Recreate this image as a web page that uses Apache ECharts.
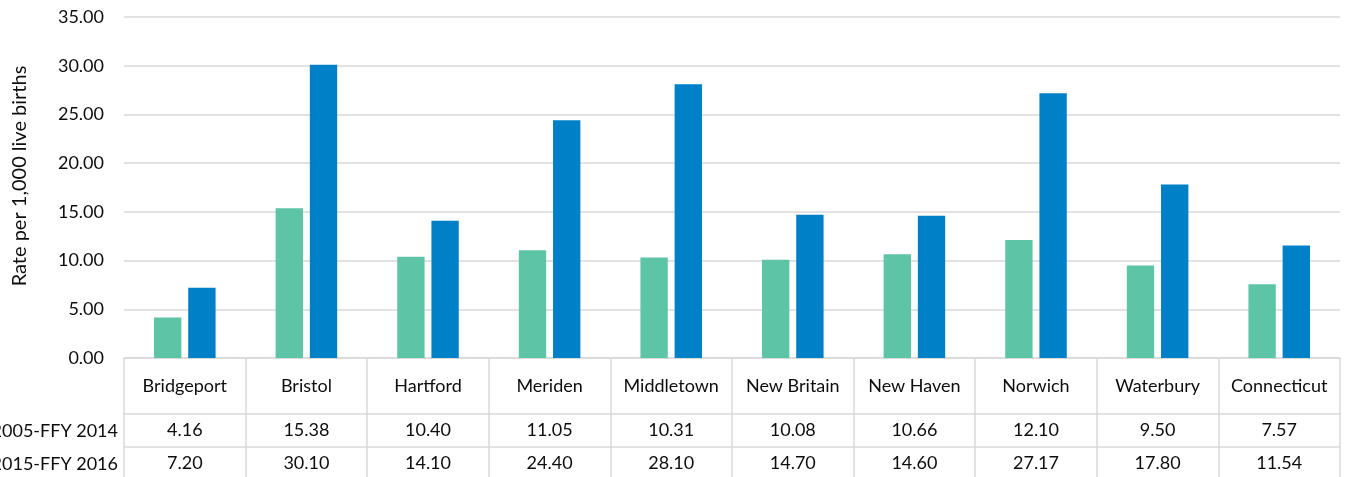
<!DOCTYPE html>
<html><head><meta charset="utf-8">
<script src="https://cdn.jsdelivr.net/npm/echarts@6/dist/echarts.min.js"></script>
<style>html,body{margin:0;padding:0;background:#fff;}#c{width:1349px;height:477px;}</style>
</head><body><div id="c"></div>
<script>
const categories = ['Bridgeport','Bristol','Hartford','Meriden','Middletown','New Britain','New Haven','Norwich','Waterbury','Connecticut'];
const seriesNames = ['FFY 2005-FFY 2014','FFY 2015-FFY 2016'];
const values2005_2014 = [4.16,15.38,10.40,11.05,10.31,10.08,10.66,12.10,9.50,7.57];
const values2015_2016 = [7.20,30.10,14.10,24.40,28.10,14.70,14.60,27.17,17.80,11.54];
const yTicks = {min:0,max:35,interval:5};
const yTitle = 'Rate per 1,000 live births';

const FONT = 'Lato';
const FS = 18;
const GRID_LINE = '#d9d9d9';
const TXT = '#0d0d0d';
const chart = echarts.init(document.getElementById('c'));
const baseX = {
  type:'category', data:categories, position:'bottom', boundaryGap:true,
  axisLine:{show:true,lineStyle:{color:GRID_LINE,width:1.5}},
  axisTick:{show:false}, splitLine:{show:false}
};
chart.setOption({
  animation:false,
  grid:{left:124,right:9,top:17,bottom:119,containLabel:false},
  xAxis:[
    Object.assign({}, baseX, {
      axisTick:{show:true,alignWithLabel:false,length:119,lineStyle:{color:GRID_LINE,width:1.5}},
      axisLabel:{margin:19,fontFamily:FONT,fontSize:FS,color:TXT,interval:0}
    }),
    Object.assign({}, baseX, {
      offset:56,
      axisLabel:{margin:7,fontFamily:FONT,fontSize:FS,color:TXT,interval:0,
        formatter:(v,i)=>values2005_2014[i].toFixed(2)}
    }),
    Object.assign({}, baseX, {
      offset:89,
      axisLabel:{margin:7,fontFamily:FONT,fontSize:FS,color:TXT,interval:0,
        formatter:(v,i)=>values2015_2016[i].toFixed(2)}
    })
  ],
  yAxis:{
    type:'value', min:yTicks.min, max:yTicks.max, interval:yTicks.interval,
    axisLine:{show:false}, axisTick:{show:false},
    axisLabel:{margin:20,fontFamily:FONT,fontSize:FS,color:TXT,formatter:v=>v.toFixed(2)},
    splitLine:{lineStyle:{color:GRID_LINE,width:1.5}}
  },
  graphic:[
    {type:'text',x:20,y:176,rotation:Math.PI/2,style:{text:yTitle,font:'20px '+FONT,fill:TXT,textAlign:'center',textVerticalAlign:'middle'}},
    {type:'text',x:118,y:431,style:{text:seriesNames[0],font:FS+'px '+FONT,fill:TXT,textAlign:'right',textVerticalAlign:'middle'}},
    {type:'text',x:118,y:464,style:{text:seriesNames[1],font:FS+'px '+FONT,fill:TXT,textAlign:'right',textVerticalAlign:'middle'}}
  ],
  series:[
    {name:seriesNames[0],type:'bar',data:values2005_2014,barWidth:'22.5%',barGap:'25%',
      itemStyle:{color:'#5ec4a6'}},
    {name:seriesNames[1],type:'bar',data:values2015_2016,barWidth:'22.5%',barGap:'25%',
      itemStyle:{color:'#0080c6'}}
  ]
});
</script></body></html>
